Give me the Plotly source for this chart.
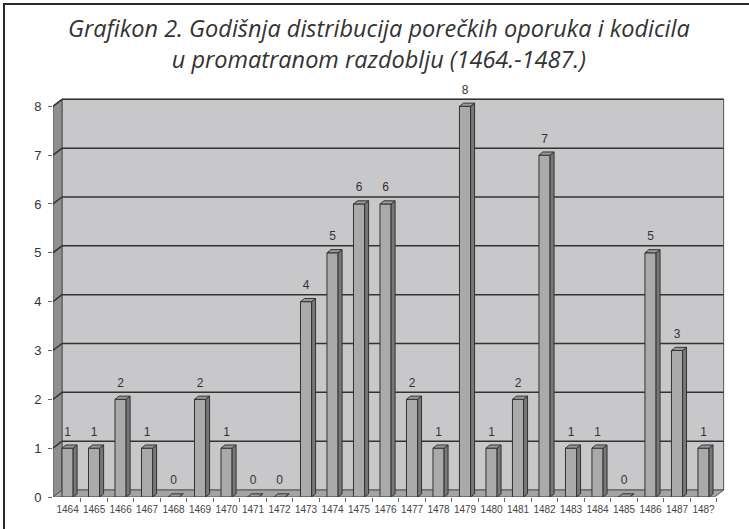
import plotly.graph_objects as go

# ---- data ----
years = ["1464", "1465", "1466", "1467", "1468", "1469", "1470", "1471", "1472",
         "1473", "1474", "1475", "1476", "1477", "1478", "1479", "1480", "1481",
         "1482", "1483", "1484", "1485", "1486", "1487", "148?"]
counts = [1, 1, 2, 1, 0, 2, 1, 0, 0, 4, 5, 6, 6, 2, 1, 8, 1, 2, 7, 1, 1, 0, 5, 3, 1]
y_ticks = [0, 1, 2, 3, 4, 5, 6, 7, 8]
title_lines = ["Grafikon 2. Godišnja distribucija porečkih oporuka i kodicila",
               "u promatranom razdoblju (1464.-1487.)"]

# ---- geometry / style (axis units) ----
idx = list(range(len(years)))
BAR_W = 0.42
BDX, BDY = 0.15, 0.065       # bar depth
WDX, WDY = 0.34, 0.143       # wall depth
XL, XR = -0.55, 24.42        # front edges of floor
YTOP = y_ticks[-1]
X_RANGE = [XL, 25.0]
Y_RANGE = [0, 8.6]

OUT = "#333333"
fig = go.Figure()

# front faces
fig.add_trace(go.Bar(
    x=idx, y=counts, width=BAR_W,
    marker=dict(color="#aaaaaa", line=dict(color=OUT, width=1)),
    hoverinfo="skip", showlegend=False))

# side + top faces
sx, sy, tx, ty = [], [], [], []
for i, v in zip(idx, counts):
    l, r = i - BAR_W / 2, i + BAR_W / 2
    sx += [r, r + BDX, r + BDX, r, r, None]
    sy += [0, BDY, v + BDY, v, 0, None]
    tx += [l, r, r + BDX, l + BDX, l, None]
    ty += [v, v, v + BDY, v + BDY, v, None]
fig.add_trace(go.Scatter(x=sx, y=sy, mode="lines", fill="toself",
                         fillcolor="#777777", line=dict(color=OUT, width=1),
                         hoverinfo="skip", showlegend=False))
fig.add_trace(go.Scatter(x=tx, y=ty, mode="lines", fill="toself",
                         fillcolor="#999999", line=dict(color=OUT, width=1),
                         hoverinfo="skip", showlegend=False))

# data labels
fig.add_trace(go.Scatter(
    x=idx, y=[v + 0.32 for v in counts], mode="text",
    text=[str(v) for v in counts], textposition="middle center",
    textfont=dict(family="Liberation Sans, Arial", size=12, color="#333333"),
    hoverinfo="skip", showlegend=False, cliponaxis=False))

# ---- walls ----
shapes = []
shapes.append(dict(type="rect", xref="x", yref="y", layer="below",
                   x0=XL + WDX, x1=XR + WDX, y0=WDY, y1=YTOP + WDY,
                   fillcolor="#c8c8ca", line=dict(color="#555555", width=1)))
shapes.append(dict(type="path", xref="x", yref="y", layer="below",
                   path=f"M {XL},0 L {XL+WDX},{WDY} L {XL+WDX},{YTOP+WDY} L {XL},{YTOP} Z",
                   fillcolor="#8f8f8f", line=dict(color="#555555", width=1)))
shapes.append(dict(type="path", xref="x", yref="y", layer="below",
                   path=f"M {XL},0 L {XR},0 L {XR+WDX},{WDY} L {XL+WDX},{WDY} Z",
                   fillcolor="#a4a4a4", line=dict(color="#555555", width=1)))
for k in y_ticks[1:]:
    shapes.append(dict(type="line", xref="x", yref="y", layer="below",
                       x0=XL + WDX, x1=XR + WDX, y0=k + WDY, y1=k + WDY,
                       line=dict(color=OUT, width=1.5)))
    shapes.append(dict(type="line", xref="x", yref="y", layer="below",
                       x0=XL, x1=XL + WDX, y0=k, y1=k + WDY,
                       line=dict(color=OUT, width=1.5)))

# outer frame (left & top visible)
W, H = 749, 529
ML, MR, MT, MB = 53, 19, 77, 32
pw, ph = W - ML - MR, H - MT - MB
def px(x): return (x - ML) / pw
def py(y): return (H - MB - y) / ph
shapes.append(dict(type="rect", xref="paper", yref="paper", layer="above",
                   x0=px(4), x1=px(754), y0=py(534), y1=py(4),
                   line=dict(color="#2a2a2a", width=2), fillcolor="rgba(0,0,0,0)"))

# title (two lines in one annotation)
annotations = [dict(
    text="<i>" + "<br>".join(title_lines) + "</i>", x=px(379), y=py(43),
    xref="paper", yref="paper", xanchor="center", yanchor="middle",
    showarrow=False, align="center",
    font=dict(family="Open Sans", size=23.5, color="#333333"))]

fig.update_layout(
    width=W, height=H,
    margin=dict(l=ML, r=MR, t=MT, b=MB),
    paper_bgcolor="white", plot_bgcolor="white",
    shapes=shapes, annotations=annotations,
    showlegend=False,
    xaxis=dict(range=X_RANGE, tickmode="array", tickvals=idx, ticktext=years,
               ticks="", showgrid=False, zeroline=False, showline=False,
               ticklabelstandoff=5,
               tickfont=dict(family="Liberation Sans, Arial", size=10, color="#444444"),
               minor=dict(tickmode="array", tickvals=[i + 0.5 for i in idx],
                          ticks="outside", ticklen=4, tickcolor="#666666")),
    yaxis=dict(range=Y_RANGE, tickmode="array", tickvals=y_ticks,
               ticks="outside", ticklen=4, tickcolor="#666666",
               showgrid=False, zeroline=False, showline=False,
               ticklabelstandoff=4,
               tickfont=dict(family="Liberation Sans, Arial", size=13, color="#333333")),
)

fig.write_html("out.html", config={"displayModeBar": False},
               post_script="document.body.style.margin='0';document.body.style.overflow='hidden';")
